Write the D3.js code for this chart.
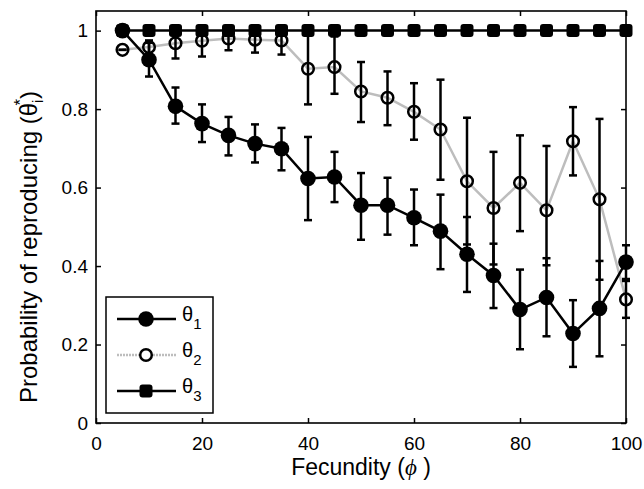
<!DOCTYPE html>
<html>
<head>
<meta charset="utf-8">
<script src="https://cdn.jsdelivr.net/npm/d3@7"></script>
<style>
  body { margin: 0; background: #fff; }
  svg text { font-family: "Liberation Sans", Arial, sans-serif; }
</style>
</head>
<body>
<svg id="chart" width="644" height="489"></svg>
<script>
// fecundity values (x)
const fecundity = [5, 10, 15, 20, 25, 30, 35, 40, 45, 50, 55, 60, 65, 70, 75, 80, 85, 90, 95, 100];

// theta_1 : filled circles
const theta1 = [1.00, 0.926, 0.807, 0.763, 0.733, 0.712, 0.699, 0.623, 0.627, 0.555,
                0.555, 0.523, 0.489, 0.430, 0.376, 0.289, 0.320, 0.228, 0.292, 0.410];
const theta1Low = [1.00, 0.883, 0.763, 0.716, 0.682, 0.664, 0.644, 0.517, 0.563, 0.467,
                   0.480, 0.453, 0.392, 0.334, 0.293, 0.188, 0.221, 0.143, 0.170, 0.367];
const theta1High = [1.00, 0.969, 0.855, 0.812, 0.780, 0.761, 0.752, 0.729, 0.691, 0.637,
                    0.625, 0.595, 0.582, 0.525, 0.457, 0.391, 0.420, 0.313, 0.413, 0.453];

// theta_2 : open circles
const theta2 = [0.951, 0.958, 0.968, 0.974, 0.980, 0.977, 0.975, 0.903, 0.907, 0.845,
                0.829, 0.793, 0.748, 0.616, 0.548, 0.612, 0.542, 0.718, 0.570, 0.315];
const theta2Low = [0.951, 0.940, 0.929, 0.934, 0.950, 0.944, 0.939, 0.812, 0.839, 0.767,
                   0.759, 0.722, 0.620, 0.455, 0.404, 0.489, 0.402, 0.631, 0.365, 0.268];
const theta2High = [0.951, 0.975, 1.005, 1.010, 1.010, 1.010, 1.010, 0.995, 0.985, 0.920,
                    0.896, 0.866, 0.875, 0.778, 0.691, 0.733, 0.706, 0.805, 0.775, 0.362];

// theta_3 : filled squares
const theta3 = [1, 1, 1, 1, 1, 1, 1, 1, 1, 1, 1, 1, 1, 1, 1, 1, 1, 1, 1, 1];

const xTicks = [0, 20, 40, 60, 80, 100];
const yTicks = [0, 0.2, 0.4, 0.6, 0.8, 1];

const margin = { top: 11, right: 18, bottom: 66, left: 96 };
const width = 644, height = 489;
const innerW = width - margin.left - margin.right;
const innerH = height - margin.top - margin.bottom;

const svg = d3.select("#chart");
const g = svg.append("g").attr("transform", `translate(${margin.left},${margin.top})`);

const x = d3.scaleLinear().domain([0, 100]).range([0, innerW]);
const y = d3.scaleLinear().domain([0, 1.05]).range([innerH, 0]);

// axes, ticks pointing inward like matlab
const tickLen = 5;
g.append("g").attr("transform", `translate(0,${innerH})`)
  .call(d3.axisBottom(x).tickValues(xTicks).tickSize(-tickLen).tickPadding(14).tickFormat(d3.format("d")))
  .call(a => a.select(".domain").remove());
g.append("g")
  .call(d3.axisTop(x).tickValues(xTicks).tickSize(-tickLen).tickFormat(""))
  .call(a => a.select(".domain").remove());
g.append("g")
  .call(d3.axisLeft(y).tickValues(yTicks).tickSize(-tickLen).tickPadding(8).tickFormat(d => d === 0 || d === 1 ? d3.format("d")(d) : d3.format(".1f")(d)))
  .call(a => a.select(".domain").remove());
g.append("g").attr("transform", `translate(${innerW},0)`)
  .call(d3.axisRight(y).tickValues(yTicks).tickSize(-tickLen).tickFormat(""))
  .call(a => a.select(".domain").remove());

g.selectAll(".tick line").attr("stroke", "#000").attr("stroke-width", 1.5);
g.selectAll(".tick text").attr("font-size", 19).attr("fill", "#000")
  .attr("font-family", "Liberation Sans, Arial, sans-serif");

g.append("rect").attr("width", innerW).attr("height", innerH)
  .attr("fill", "none").attr("stroke", "#000").attr("stroke-width", 1.6);

const line = d3.line().x(d => x(d[0])).y(d => y(d[1]));

function errorBars(lo, hi) {
  const eg = g.append("g").attr("stroke", "#000").attr("stroke-width", 2.5);
  fecundity.forEach((f, i) => {
    const cx = x(f);
    eg.append("line").attr("x1", cx).attr("x2", cx).attr("y1", y(lo[i])).attr("y2", y(hi[i]));
    eg.append("line").attr("x1", cx - 4).attr("x2", cx + 4).attr("y1", y(lo[i])).attr("y2", y(lo[i]));
    eg.append("line").attr("x1", cx - 4).attr("x2", cx + 4).attr("y1", y(hi[i])).attr("y2", y(hi[i]));
  });
}

// theta 2
g.append("path").datum(fecundity.map((f, i) => [f, theta2[i]]))
  .attr("d", line).attr("fill", "none").attr("stroke", "#bdbdbd").attr("stroke-width", 2.5);
errorBars(theta2Low, theta2High);
g.append("g").selectAll("circle").data(fecundity).join("circle")
  .attr("cx", d => x(d)).attr("cy", (d, i) => y(theta2[i])).attr("r", 5.8)
  .attr("fill", "none").attr("stroke", "#000").attr("stroke-width", 2.5);

// theta 3
g.append("path").datum(fecundity.map((f, i) => [f, theta3[i]]))
  .attr("d", line).attr("fill", "none").attr("stroke", "#000").attr("stroke-width", 2.5);
g.append("g").selectAll("rect").data(fecundity).join("rect")
  .attr("x", d => x(d) - 6.5).attr("y", (d, i) => y(theta3[i]) - 6.5)
  .attr("width", 13).attr("height", 13).attr("rx", 3).attr("fill", "#000");

// theta 1
g.append("path").datum(fecundity.map((f, i) => [f, theta1[i]]))
  .attr("d", line).attr("fill", "none").attr("stroke", "#000").attr("stroke-width", 2.5);
errorBars(theta1Low, theta1High);
g.append("g").selectAll("circle").data(fecundity).join("circle")
  .attr("cx", d => x(d)).attr("cy", (d, i) => y(theta1[i])).attr("r", 7.8)
  .attr("fill", "#000");

// legend
const leg = svg.append("g").attr("transform", "translate(106,297)");
leg.append("rect").attr("width", 107).attr("height", 116)
  .attr("fill", "#fff").attr("stroke", "#000").attr("stroke-width", 1.5);
const entries = [
  { sub: "1", stroke: "#000", dash: null, marker: "fill" },
  { sub: "2", stroke: "#bdbdbd", dash: "2,1", marker: "open" },
  { sub: "3", stroke: "#000", dash: null, marker: "square" }
];
entries.forEach((e, i) => {
  const ly = 22 + i * 36;
  leg.append("line").attr("x1", 11).attr("x2", 70).attr("y1", ly).attr("y2", ly)
    .attr("stroke", e.stroke).attr("stroke-width", 2.5).attr("stroke-dasharray", e.dash);
  if (e.marker === "fill") {
    leg.append("circle").attr("cx", 40).attr("cy", ly).attr("r", 7.8).attr("fill", "#000");
  } else if (e.marker === "open") {
    leg.append("circle").attr("cx", 40).attr("cy", ly).attr("r", 5.8)
      .attr("fill", "#fff").attr("stroke", "#000").attr("stroke-width", 2.5);
  } else {
    leg.append("rect").attr("x", 33.5).attr("y", ly - 6.5).attr("width", 13).attr("height", 13)
      .attr("rx", 3).attr("fill", "#000");
  }
  const t = leg.append("text").attr("x", 76).attr("y", ly + 2)
    .attr("font-family", "Liberation Serif, Times New Roman, serif").attr("font-size", 20);
  t.append("tspan").text("θ");
  t.append("tspan").attr("dy", 8).attr("font-size", 15)
    .attr("font-family", "Liberation Sans, Arial, sans-serif").text(e.sub);
});

// axis titles
svg.append("text").attr("x", margin.left + innerW / 2).attr("y", 475)
  .attr("text-anchor", "middle").attr("font-size", 23)
  .text("Fecundity (")
  .call(t => t.append("tspan").attr("font-family", "Liberation Serif, serif").attr("font-style", "italic").text("ϕ"))
  .call(t => t.append("tspan").text(" )"));

const yl = svg.append("text")
  .attr("transform", `translate(37,${margin.top + 236}) rotate(-90)`)
  .attr("text-anchor", "middle").attr("font-size", 24);
yl.append("tspan").text("Probability of reproducing (θ");
yl.append("tspan").attr("font-size", 15).attr("dy", 6).text("i");
yl.append("tspan").attr("font-size", 17).attr("dx", -6).attr("dy", -17).text("*");
yl.append("tspan").attr("dy", 11).text(")");
</script>
</body>
</html>
